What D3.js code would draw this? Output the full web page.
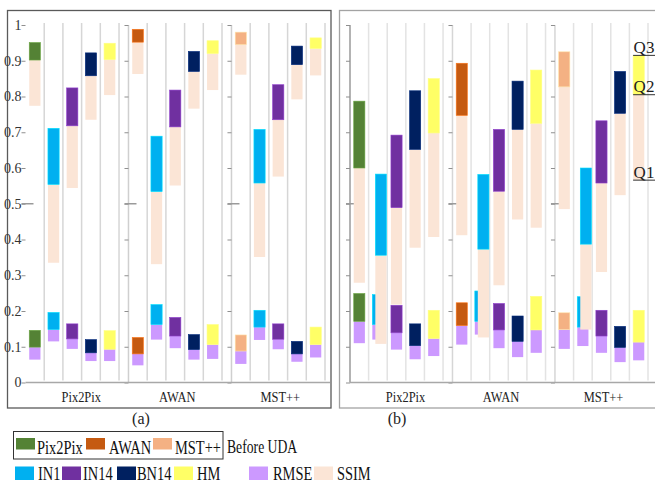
<!DOCTYPE html>
<html>
<head>
<meta charset="utf-8">
<script src="https://cdn.jsdelivr.net/npm/d3@7"></script>
<style>
  body { margin: 0; background: #fff; }
  svg { display: block; font-family: "Liberation Serif", "Times New Roman", serif; }
</style>
</head>
<body>
<svg id="chart" width="655" height="485"></svg>
<script>
(function() {

  var groups = ["Pix2Pix", "AWAN", "MST++"];
  var methods = ["Before", "IN1", "IN14", "BN14", "HM"];
  var beforeColors = ["#548235", "#c55a11", "#f4b183"];
  var methodColors = ["#00b0f0", "#7030a0", "#002060", "#ffff66"];
  var rmseColor = "#cc99ff";
  var ssimColor = "#fbe5d6";
  var yTicks = [0, 0.1, 0.2, 0.3, 0.4, 0.5, 0.6, 0.7, 0.8, 0.9, 1];
  var quartileLabels = ["Q1", "Q2", "Q3"];

  // [Q1, Q2, Q3] for each method, one row per group
  var ssimA = [
    [[0.774, 0.902, 0.951], [0.335, 0.554, 0.711], [0.544, 0.718, 0.824], [0.735, 0.858, 0.922], [0.804, 0.903, 0.949]],
    [[0.863, 0.952, 0.988], [0.331, 0.534, 0.689], [0.551, 0.715, 0.818], [0.766, 0.870, 0.926], [0.818, 0.920, 0.956]],
    [[0.861, 0.945, 0.980], [0.351, 0.558, 0.708], [0.576, 0.735, 0.833], [0.792, 0.889, 0.941], [0.859, 0.934, 0.964]]
  ];
  var rmseA = [
    [[0.064, 0.099, 0.146], [0.115, 0.148, 0.196], [0.094, 0.122, 0.164], [0.060, 0.083, 0.120], [0.060, 0.093, 0.145]],
    [[0.048, 0.080, 0.126], [0.120, 0.162, 0.218], [0.096, 0.130, 0.182], [0.064, 0.092, 0.134], [0.066, 0.106, 0.162]],
    [[0.052, 0.088, 0.133], [0.119, 0.155, 0.202], [0.093, 0.121, 0.164], [0.058, 0.080, 0.115], [0.070, 0.106, 0.155]]
  ];
  var ssimB = [
    [[0.279, 0.600, 0.787], [0.108, 0.356, 0.583], [0.218, 0.489, 0.692], [0.377, 0.652, 0.816], [0.407, 0.698, 0.850]],
    [[0.412, 0.747, 0.893], [0.126, 0.373, 0.582], [0.272, 0.535, 0.708], [0.456, 0.708, 0.843], [0.433, 0.725, 0.874]],
    [[0.485, 0.827, 0.925], [0.148, 0.387, 0.600], [0.309, 0.558, 0.732], [0.524, 0.753, 0.870], [0.566, 0.805, 0.915]]
  ];
  var rmseB = [
    [[0.110, 0.171, 0.249], [0.120, 0.162, 0.246], [0.092, 0.139, 0.216], [0.065, 0.103, 0.164], [0.074, 0.123, 0.202]],
    [[0.106, 0.159, 0.223], [0.134, 0.171, 0.256], [0.096, 0.147, 0.221], [0.071, 0.115, 0.186], [0.083, 0.147, 0.241]],
    [[0.094, 0.148, 0.195], [0.102, 0.155, 0.240], [0.083, 0.130, 0.202], [0.057, 0.098, 0.157], [0.062, 0.113, 0.202]]
  ];

  var svg = d3.select("#chart");

  var y = d3.scaleLinear().domain([0, 1]).range([382.5, 25]);

  var panels = [
    { ssim: ssimA, rmse: rmseA, range: [25.5, 325], axisEnd: 330, labels: true,
      frame: [7.5, 10.5, 323.5, 397.5], frameColor: "#5a5a5a", grid: "#d6d6d6",
      axisColors: [null, "#cfcfcf", "#cfcfcf"], caption: "(a)", captionX: 141, in1Shift: 0 },
    { ssim: ssimB, rmse: rmseB, range: [350, 648], axisEnd: 655, labels: false,
      frame: [339.5, 10.5, 330, 397.5], frameColor: "#a3a3a3", grid: "#e3e3e3",
      axisColors: ["#9a9a9a", "#d6d6d6", "#d6d6d6"], caption: "(b)", captionX: 397, in1Shift: 3 }
  ];

  // squeeze a text horizontally around its anchor point
  function condense(sel, f) {
    sel.each(function() {
      var t = d3.select(this);
      var x = +t.attr("x"), ty = +t.attr("y");
      t.attr("x", 0).attr("y", 0)
        .attr("transform", "translate(" + x + "," + ty + ") scale(" + f + ",1)");
    });
  }

  function barColor(gi, mi) {
    return mi === 0 ? beforeColors[gi] : methodColors[mi - 1];
  }

  function drawBox(g, x, w, q, low, high) {
    g.append("rect")
      .attr("x", x).attr("width", w)
      .attr("y", y(q[1])).attr("height", y(q[0]) - y(q[1]))
      .attr("fill", low);
    g.append("rect")
      .attr("x", x).attr("width", w)
      .attr("y", y(q[2])).attr("height", y(q[1]) - y(q[2]))
      .attr("fill", high)
      .attr("stroke", d3.color(high).brighter(0.7))
      .attr("stroke-width", 0.6);
  }

  panels.forEach(function(p) {
    var gx = d3.scaleBand().domain(groups).range(p.range).paddingInner(0.092);
    var mx = d3.scaleBand().domain(methods).range([0, gx.bandwidth()])
      .paddingInner(0.4).paddingOuter(0.2);
    var step = mx.step();

    svg.append("rect")
      .attr("x", p.frame[0]).attr("y", p.frame[1])
      .attr("width", p.frame[2]).attr("height", p.frame[3])
      .attr("fill", "none").attr("stroke", p.frameColor).attr("stroke-width", 1.3);

    var panel = svg.append("g");

    groups.forEach(function(name, gi) {
      var x0 = gx(name);
      var grp = panel.append("g");

      // slot separators
      d3.range(1, methods.length + 1).forEach(function(i) {
        grp.append("line")
          .attr("x1", x0 + i * step).attr("x2", x0 + i * step)
          .attr("y1", y(1) - 2).attr("y2", y(0) - 2)
          .attr("stroke", p.grid).attr("stroke-width", 1.5);
      });

      if (p.axisColors[gi]) {
        grp.append("line")
          .attr("x1", x0).attr("x2", x0)
          .attr("y1", y(1)).attr("y2", y(0))
          .attr("stroke", p.axisColors[gi]).attr("stroke-width", 1.5);
      }

      var axis = grp.append("g")
        .attr("transform", "translate(" + x0 + ",0)")
        .call(d3.axisLeft(y).tickValues(yTicks).tickSize(4).tickPadding(0)
          .tickFormat(p.labels && gi === 0 ? d3.format("~g") : ""));
      axis.select(".domain").remove();
      axis.selectAll(".tick line").attr("stroke", "#8f8f8f");
      axis.selectAll(".tick text")
        .attr("fill", "#333").style("font-size", "14px")
        .style("font-family", "'Liberation Serif', serif");

      grp.append("line")
        .attr("x1", x0 - 4).attr("x2", x0 + 8)
        .attr("y1", y(0.5)).attr("y2", y(0.5))
        .attr("stroke", "#9a9a9a").attr("stroke-width", 1.5);

      methods.forEach(function(m, mi) {
        var bx = x0 + mx(m);
        var shift = mi === 1 ? p.in1Shift : 0;
        drawBox(grp, bx, mx.bandwidth(), p.rmse[gi][mi], rmseColor, barColor(gi, mi));
        drawBox(grp, bx + shift, mx.bandwidth(), p.ssim[gi][mi], ssimColor, barColor(gi, mi));
      });

      grp.append("text")
        .attr("x", gx(name) + gx.bandwidth() / 2 + (gi === 0 ? 9 : 2))
        .attr("y", 402)
        .attr("text-anchor", "middle")
        .attr("fill", "#222")
        .style("font-size", "15px")
        .text(name)
        .call(condense, 0.83);
    });

    panel.append("line")
      .attr("x1", p.range[0]).attr("x2", p.axisEnd)
      .attr("y1", y(0)).attr("y2", y(0))
      .attr("stroke", "#a8a8a8").attr("stroke-width", 1.5);

    svg.append("text")
      .attr("x", p.captionX).attr("y", 424)
      .attr("text-anchor", "middle")
      .attr("fill", "#222")
      .style("font-size", "16px")
      .text(p.caption);

    // quartile markers on the last bar of panel (b)
    if (!p.labels) {
      var lastG = groups.length - 1, lastM = methods.length - 1;
      var qx = gx(groups[lastG]) + mx(methods[lastM]);
      p.ssim[lastG][lastM].forEach(function(v, qi) {
        svg.append("line")
          .attr("x1", qx).attr("x2", 655)
          .attr("y1", y(v)).attr("y2", y(v))
          .attr("stroke", "#333").attr("stroke-width", 1);
        svg.append("text")
          .attr("x", qx + 0.5).attr("y", y(v) - 2.5)
          .attr("fill", "#222")
          .style("font-size", "17px")
          .text(quartileLabels[qi]);
      });
    }
  });

  // legend
  var legendRow1 = groups.map(function(n, i) { return { label: n, color: beforeColors[i] }; });
  var legendRow2 = methods.slice(1).map(function(n, i) { return { label: n, color: methodColors[i] }; })
    .concat([{ label: "RMSE", color: rmseColor }, { label: "SSIM", color: ssimColor }]);
  var row1X = [[16, 37], [86, 109], [153, 175]];
  var row2X = [[15, 38], [62, 83], [117, 137], [174, 197], [249, 273], [314, 337]];

  var legend = svg.append("g").style("font-size", "19px").attr("fill", "#111");

  legend.append("rect")
    .attr("x", 13.5).attr("y", 431.5).attr("width", 209.5).attr("height", 27.5)
    .attr("fill", "none").attr("stroke", "#333").attr("stroke-width", 1);

  function legendRow(items, pos, sy, sh, ty) {
    items.forEach(function(d, i) {
      legend.append("rect")
        .attr("x", pos[i][0]).attr("y", sy).attr("width", 19).attr("height", sh)
        .attr("fill", d.color);
      legend.append("text")
        .attr("x", pos[i][1]).attr("y", ty)
        .text(d.label)
        .call(condense, 0.76);
    });
  }

  legendRow(legendRow1, row1X, 438, 11.5, 454);
  legendRow(legendRow2, row2X, 466.5, 13.5, 479.5);

  legend.append("text")
    .attr("x", 227).attr("y", 453)
    .text("Before UDA")
    .call(condense, 0.72);

})();
</script>
</body>
</html>
